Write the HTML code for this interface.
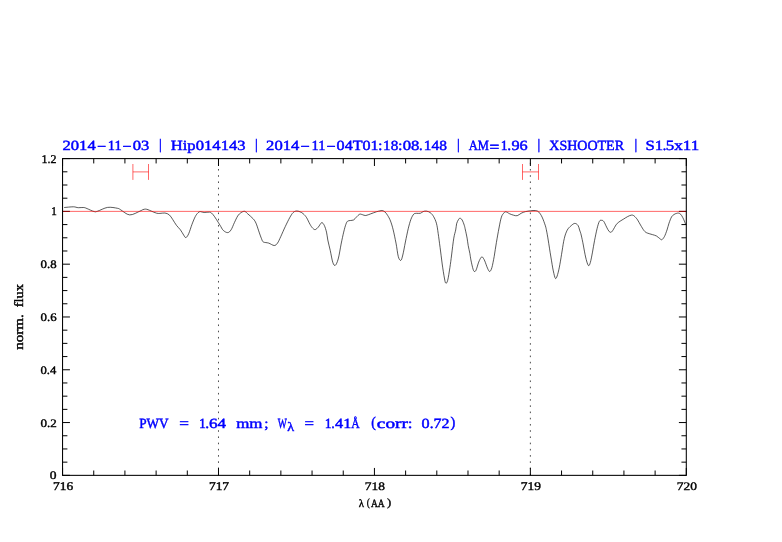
<!DOCTYPE html>
<html><head><meta charset="utf-8"><title>plot</title>
<style>
html,body{margin:0;padding:0;background:#fff;}
body{width:782px;height:542px;overflow:hidden;}
svg{display:block;font-family:"Liberation Serif",serif;text-rendering:geometricPrecision;}
text.b{fill:#0000ff;stroke:#0000ff;}
text.k{fill:#000;stroke:#000;}
</style></head><body>
<svg width="782" height="542" viewBox="0 0 782 542">
<rect width="782" height="542" fill="#fff"/>
<path d="M132.9 164V179.9M148.5 164V179.9M132.9 171.9H148.5M522.5 164V179.9M538.5 164V179.9M522.5 171.9H538.5" stroke="#ff0000" stroke-width="0.6" fill="none"/>
<path d="M218.49 475.35V158.6M530.36 475.35V158.6" stroke="#000" stroke-width="0.7" stroke-dasharray="1.6 4.62" fill="none"/>
<path d="M64.2 207.5C65.7 207.4 71.0 206.8 73.3 206.8C75.6 206.8 76.5 207.6 78.3 207.7C80.0 207.8 82.3 207.3 83.8 207.5C85.3 207.7 85.3 207.9 87.1 208.6C88.8 209.3 92.5 211.2 94.3 211.6C96.0 212.0 95.4 211.9 97.6 211.2C99.8 210.5 104.3 207.9 107.6 207.4C110.9 206.9 115.3 207.9 117.5 208.3C119.7 208.7 118.8 208.8 120.8 209.9C122.8 211.0 126.5 214.7 129.7 214.9C132.9 215.1 137.8 212.0 140.0 211.1C142.2 210.2 142.1 209.9 143.0 209.6C143.9 209.3 144.7 209.1 145.5 209.1C146.3 209.1 147.1 209.4 148.0 209.7C148.9 210.0 149.7 210.4 151.1 211.0C152.5 211.6 155.1 212.8 156.6 213.2C158.1 213.6 158.5 213.4 159.9 213.4C161.3 213.4 163.3 212.8 164.9 213.0C166.5 213.2 168.0 213.8 169.3 214.9C170.6 216.0 171.4 217.6 172.6 219.3C173.8 221.1 175.2 223.7 176.5 225.4C177.8 227.2 179.2 228.2 180.4 229.8C181.6 231.4 182.8 233.8 183.7 235.1C184.6 236.4 185.1 237.8 185.9 237.6C186.7 237.4 187.7 235.9 188.7 233.7C189.7 231.5 190.9 227.2 192.0 224.3C193.1 221.4 194.3 218.4 195.3 216.5C196.3 214.6 197.3 213.5 198.1 212.7C198.9 211.9 199.3 211.6 200.3 211.6C201.3 211.6 202.6 212.4 204.2 212.5C205.8 212.6 208.2 211.8 209.7 212.1C211.2 212.4 211.9 213.4 213.0 214.6C214.1 215.8 215.1 217.5 216.3 219.3C217.5 221.1 218.8 223.3 220.0 225.2C221.2 227.0 222.0 229.2 223.3 230.4C224.6 231.6 226.4 232.7 227.7 232.6C229.0 232.5 230.0 231.5 231.1 229.8C232.2 228.1 233.3 224.9 234.4 222.6C235.5 220.3 236.6 217.7 237.7 216.0C238.8 214.3 239.8 213.5 241.0 212.7C242.2 211.9 243.5 211.1 244.6 211.3C245.7 211.5 246.3 212.6 247.7 213.8C249.1 215.1 251.8 217.2 253.2 218.8C254.6 220.4 255.1 221.2 256.0 223.2C256.9 225.2 257.8 228.3 258.7 230.9C259.6 233.5 260.7 236.8 261.5 238.7C262.3 240.5 262.2 241.3 263.4 242.0C264.6 242.7 266.9 242.5 268.7 243.1C270.5 243.7 272.7 245.5 274.2 245.5C275.7 245.5 276.4 244.6 277.5 243.1C278.6 241.6 279.5 239.3 280.8 236.5C282.1 233.7 283.8 229.6 285.3 226.5C286.8 223.4 288.4 220.0 289.7 217.7C291.0 215.4 291.9 213.8 293.0 212.7C294.1 211.6 295.1 211.2 296.3 211.0C297.5 210.8 298.8 211.3 300.0 211.8C301.2 212.3 302.2 212.8 303.3 213.8C304.4 214.8 305.5 215.9 306.6 217.7C307.7 219.4 309.0 222.6 310.0 224.3C311.0 226.1 311.8 227.3 312.7 228.2C313.6 229.1 314.4 229.8 315.3 229.6C316.2 229.4 317.2 228.2 318.3 227.1C319.4 225.9 320.6 223.0 321.6 222.7C322.6 222.4 323.5 223.8 324.3 225.4C325.1 227.0 325.9 229.7 326.5 232.1C327.1 234.5 327.2 236.9 327.8 240.0C328.4 243.1 329.5 247.0 330.3 250.7C331.1 254.4 332.0 260.0 332.8 262.4C333.6 264.8 334.4 265.9 335.3 265.3C336.2 264.7 337.2 262.5 338.2 259.0C339.2 255.5 340.2 248.6 341.1 244.1C342.0 239.6 342.9 235.4 343.7 232.1C344.5 228.8 345.2 226.1 345.9 224.3C346.5 222.5 346.9 221.8 347.6 221.2C348.3 220.6 349.3 220.7 350.3 220.5C351.3 220.3 352.7 220.5 353.7 219.9C354.7 219.3 355.4 218.1 356.4 217.1C357.4 216.1 358.7 214.6 359.7 214.2C360.7 213.8 361.5 214.5 362.5 214.7C363.5 214.9 364.4 215.7 365.8 215.5C367.2 215.3 369.1 214.4 370.8 213.8C372.6 213.2 374.8 212.3 376.3 211.8C377.8 211.3 379.0 211.1 380.0 210.9C381.0 210.7 381.4 210.3 382.2 210.5C383.0 210.7 384.0 211.1 384.9 211.9C385.8 212.7 386.8 214.0 387.7 215.5C388.6 217.0 389.6 218.6 390.5 221.0C391.4 223.4 392.3 226.2 393.2 229.9C394.1 233.6 395.1 238.6 396.0 243.1C396.9 247.6 397.5 253.7 398.3 256.6C399.1 259.5 400.1 260.7 400.8 260.4C401.6 260.1 402.0 258.1 402.8 255.0C403.6 251.9 404.5 246.4 405.4 242.0C406.3 237.6 407.3 232.6 408.2 228.8C409.1 225.0 410.0 221.8 410.9 219.4C411.8 217.0 412.8 215.2 413.7 214.2C414.6 213.2 415.4 213.5 416.5 213.3C417.6 213.2 419.2 213.6 420.3 213.3C421.4 213.0 422.1 212.0 423.1 211.6C424.1 211.2 425.2 210.9 426.4 211.1C427.6 211.3 429.1 211.8 430.3 212.7C431.5 213.6 432.6 214.8 433.6 216.6C434.6 218.3 435.6 220.4 436.4 223.2C437.2 226.0 437.6 229.4 438.2 233.5C438.8 237.6 439.4 242.4 440.1 247.5C440.8 252.6 441.5 258.9 442.2 264.0C442.9 269.1 443.8 274.8 444.4 278.0C445.0 281.2 445.2 282.7 445.8 283.1C446.4 283.5 447.0 282.9 447.7 280.3C448.4 277.7 449.2 271.8 449.9 267.6C450.5 263.4 451.0 259.9 451.6 255.0C452.2 250.1 453.1 242.3 453.8 238.1C454.5 233.9 455.2 232.4 455.7 230.0C456.2 227.6 456.2 225.5 456.6 223.8C457.0 222.1 457.8 220.8 458.3 219.9C458.9 219.0 459.3 218.2 459.9 218.2C460.5 218.2 461.4 218.7 462.1 219.9C462.8 221.1 463.8 223.7 464.3 225.4C464.9 227.1 464.9 227.9 465.4 230.0C465.9 232.1 466.6 235.5 467.1 238.1C467.6 240.7 467.7 242.9 468.2 245.5C468.7 248.1 469.4 251.2 469.9 253.6C470.3 256.0 470.4 257.3 470.9 259.9C471.4 262.5 472.5 267.4 473.1 269.3C473.7 271.2 474.0 271.4 474.5 271.5C475.0 271.6 475.5 271.4 476.2 269.8C476.9 268.2 477.9 264.1 478.7 262.1C479.5 260.1 480.3 258.5 480.9 257.7C481.5 256.9 481.9 256.6 482.5 257.1C483.1 257.7 484.0 259.1 484.8 261.0C485.6 262.9 486.7 266.4 487.5 268.2C488.3 269.9 489.0 271.6 489.7 271.5C490.4 271.4 491.1 270.1 491.9 267.6C492.6 265.1 493.4 260.7 494.2 256.5C494.9 252.3 495.6 247.2 496.4 242.5C497.2 237.8 498.2 232.2 499.0 228.0C499.8 223.8 500.6 219.5 501.4 217.1C502.2 214.7 502.9 214.2 503.6 213.3C504.3 212.4 504.8 211.7 505.8 211.8C506.8 211.9 508.4 213.2 509.7 213.8C511.0 214.4 512.4 214.9 513.6 215.2C514.9 215.5 516.0 216.0 517.2 215.7C518.5 215.4 519.7 214.0 521.1 213.3C522.5 212.6 523.9 212.0 525.5 211.6C527.1 211.2 528.9 211.0 530.5 210.8C532.1 210.6 534.0 210.3 535.4 210.5C536.8 210.7 537.7 211.0 538.8 212.1C539.9 213.2 541.0 214.8 542.1 217.1C543.2 219.4 544.6 223.5 545.4 225.8C546.1 228.1 546.1 228.6 546.6 231.0C547.1 233.4 547.5 235.7 548.2 240.0C548.9 244.3 550.0 251.8 550.9 257.0C551.8 262.1 552.5 267.3 553.3 270.9C554.1 274.5 554.8 277.9 555.5 278.5C556.2 279.1 557.0 276.6 557.7 274.2C558.4 271.8 559.2 268.2 559.9 264.3C560.6 260.4 561.4 255.3 562.1 251.0C562.8 246.7 563.4 242.0 564.3 238.5C565.1 235.0 566.1 232.3 567.2 230.2C568.3 228.1 569.5 227.1 570.8 226.0C572.0 224.9 573.5 223.5 574.7 223.4C575.9 223.3 577.2 224.3 578.0 225.4C578.8 226.5 579.1 228.4 579.6 230.0C580.1 231.6 580.6 232.5 581.2 235.0C581.8 237.5 582.6 241.3 583.3 245.0C584.0 248.7 584.8 253.6 585.6 257.0C586.4 260.4 587.5 264.5 588.3 265.4C589.1 266.3 589.6 264.8 590.3 262.6C591.0 260.4 591.8 255.8 592.5 252.1C593.2 248.4 593.8 244.2 594.6 240.3C595.4 236.4 596.3 231.7 597.1 228.5C597.9 225.3 598.6 222.7 599.4 221.3C600.1 219.9 600.9 220.3 601.6 220.3C602.3 220.3 603.0 220.4 603.8 221.5C604.6 222.6 605.8 225.5 606.6 227.1C607.4 228.7 608.1 230.1 608.8 231.0C609.5 231.9 610.3 232.5 611.0 232.3C611.7 232.1 612.4 231.0 613.2 229.8C614.0 228.6 615.1 226.2 616.0 224.9C616.9 223.6 617.6 223.0 618.8 222.1C620.0 221.2 621.7 220.2 623.2 219.3C624.7 218.4 626.2 217.3 627.6 216.6C629.0 215.9 630.4 215.2 631.5 215.1C632.6 215.0 633.2 215.2 634.2 216.0C635.2 216.8 636.6 218.4 637.6 219.9C638.6 221.4 639.4 223.2 640.5 225.0C641.6 226.8 643.1 229.5 644.2 230.8C645.3 232.1 645.8 232.4 647.2 233.0C648.6 233.6 650.9 234.1 652.4 234.6C653.9 235.1 655.3 235.3 656.5 236.0C657.7 236.7 658.9 238.0 659.8 238.6C660.7 239.2 661.0 240.0 661.8 239.7C662.6 239.4 663.5 238.2 664.4 236.6C665.3 235.0 666.2 232.2 667.0 230.0C667.8 227.8 668.2 225.4 669.0 223.2C669.8 221.0 670.7 218.4 671.5 217.0C672.3 215.6 673.2 215.1 674.0 214.5C674.8 213.9 675.7 213.6 676.5 213.4C677.3 213.2 677.9 212.9 678.6 213.1C679.3 213.2 680.0 213.6 680.7 214.3C681.4 215.0 682.1 216.3 682.7 217.4C683.3 218.5 683.9 219.9 684.4 221.1C684.9 222.3 685.6 224.2 685.8 224.8" stroke="#000" stroke-width="0.65" fill="none" stroke-linejoin="round"/>
<path d="M62.55 475.35v-7.40M62.55 158.60v7.40M93.74 475.35v-4.85M93.74 158.60v4.85M124.92 475.35v-4.85M124.92 158.60v4.85M156.11 475.35v-4.85M156.11 158.60v4.85M187.30 475.35v-4.85M187.30 158.60v4.85M218.49 475.35v-7.40M218.49 158.60v7.40M249.68 475.35v-4.85M249.68 158.60v4.85M280.86 475.35v-4.85M280.86 158.60v4.85M312.05 475.35v-4.85M312.05 158.60v4.85M343.24 475.35v-4.85M343.24 158.60v4.85M374.43 475.35v-7.40M374.43 158.60v7.40M405.61 475.35v-4.85M405.61 158.60v4.85M436.80 475.35v-4.85M436.80 158.60v4.85M467.99 475.35v-4.85M467.99 158.60v4.85M499.17 475.35v-4.85M499.17 158.60v4.85M530.36 475.35v-7.40M530.36 158.60v7.40M561.55 475.35v-4.85M561.55 158.60v4.85M592.74 475.35v-4.85M592.74 158.60v4.85M623.93 475.35v-4.85M623.93 158.60v4.85M655.11 475.35v-4.85M655.11 158.60v4.85M686.30 475.35v-7.40M686.30 158.60v7.40M62.55 475.35h7.40M686.30 475.35h-7.40M62.55 462.15h4.85M686.30 462.15h-4.85M62.55 448.95h4.85M686.30 448.95h-4.85M62.55 435.76h4.85M686.30 435.76h-4.85M62.55 422.56h7.40M686.30 422.56h-7.40M62.55 409.36h4.85M686.30 409.36h-4.85M62.55 396.16h4.85M686.30 396.16h-4.85M62.55 382.96h4.85M686.30 382.96h-4.85M62.55 369.77h7.40M686.30 369.77h-7.40M62.55 356.57h4.85M686.30 356.57h-4.85M62.55 343.37h4.85M686.30 343.37h-4.85M62.55 330.17h4.85M686.30 330.17h-4.85M62.55 316.98h7.40M686.30 316.98h-7.40M62.55 303.78h4.85M686.30 303.78h-4.85M62.55 290.58h4.85M686.30 290.58h-4.85M62.55 277.38h4.85M686.30 277.38h-4.85M62.55 264.18h7.40M686.30 264.18h-7.40M62.55 250.99h4.85M686.30 250.99h-4.85M62.55 237.79h4.85M686.30 237.79h-4.85M62.55 224.59h4.85M686.30 224.59h-4.85M62.55 211.39h7.40M686.30 211.39h-7.40M62.55 198.19h4.85M686.30 198.19h-4.85M62.55 185.00h4.85M686.30 185.00h-4.85M62.55 171.80h4.85M686.30 171.80h-4.85M62.55 158.60h7.40M686.30 158.60h-7.40" stroke="#000" stroke-width="1.0" fill="none"/>
<path d="M62.55 211.39H686.3" stroke="#ff0000" stroke-width="0.6" fill="none"/>
<rect x="62.55" y="158.6" width="623.75" height="316.75" fill="none" stroke="#000" stroke-width="1.05"/>
<text class="b" transform="translate(62.51 150.20) scale(1.1855 1.0000)" font-size="14" stroke-width="0.45">2014</text><text class="b" transform="translate(97.01 148.50) scale(1.9765 0.8000)" font-size="14" stroke-width="0.45">-</text><text class="b" transform="translate(107.87 150.20) scale(1.0333 1.0000)" font-size="14" stroke-width="0.45">11</text><text class="b" transform="translate(122.52 148.50) scale(1.9059 0.8000)" font-size="14" stroke-width="0.45">-</text><text class="b" transform="translate(132.70 150.20) scale(1.1852 1.0000)" font-size="14" stroke-width="0.45">03</text>
<text class="b" transform="translate(158.98 149.42) scale(0.9600 1.0415)" font-size="14" stroke-width="0.45">|</text>
<text class="b" transform="translate(170.80 150.20) scale(1.1805 1.0000)" font-size="14" stroke-width="0.45">Hip</text><text class="b" transform="translate(195.80 150.20) scale(1.1831 1.0000)" font-size="14" stroke-width="0.45">014143</text>
<text class="b" transform="translate(255.08 149.42) scale(0.9600 1.0415)" font-size="14" stroke-width="0.45">|</text>
<text class="b" transform="translate(266.11 150.20) scale(1.1855 1.0000)" font-size="14" stroke-width="0.45">2014</text><text class="b" transform="translate(300.61 148.50) scale(1.9765 0.8000)" font-size="14" stroke-width="0.45">-</text><text class="b" transform="translate(311.47 150.20) scale(1.0333 1.0000)" font-size="14" stroke-width="0.45">11</text><text class="b" transform="translate(326.61 148.50) scale(1.9529 0.8000)" font-size="14" stroke-width="0.45">-</text><text class="b" transform="translate(336.61 150.20) scale(1.1497 1.0000)" font-size="14" stroke-width="0.45">04T01</text><text class="b" transform="translate(378.05 150.20) scale(1.1500 1.0000)" font-size="14" stroke-width="0.45">:</text><text class="b" transform="translate(383.12 150.20) scale(1.0824 1.0000)" font-size="14" stroke-width="0.45">18</text><text class="b" transform="translate(398.05 150.20) scale(1.1500 1.0000)" font-size="14" stroke-width="0.45">:</text><text class="b" transform="translate(402.70 150.20) scale(1.1926 1.0000)" font-size="14" stroke-width="0.45">08</text><text class="b" transform="translate(419.11 150.20) scale(1.0500 1.0000)" font-size="14" stroke-width="0.45">.</text><text class="b" transform="translate(423.80 150.20) scale(1.1038 1.0000)" font-size="14" stroke-width="0.45">148</text>
<text class="b" transform="translate(456.88 149.42) scale(0.9600 1.0415)" font-size="14" stroke-width="0.45">|</text>
<text class="b" transform="translate(468.70 150.20) scale(0.8978 1.0000)" font-size="14" stroke-width="0.45">AM</text><text class="b" transform="translate(489.58 151.58) scale(1.2429 1.1200)" font-size="14" stroke-width="0.45">=</text><text class="b" transform="translate(500.82 150.20) scale(0.9818 1.0000)" font-size="14" stroke-width="0.45">1</text><text class="b" transform="translate(507.28 150.20) scale(1.1000 1.0000)" font-size="14" stroke-width="0.45">.</text><text class="b" transform="translate(511.41 150.20) scale(1.1630 1.0000)" font-size="14" stroke-width="0.45">96</text>
<text class="b" transform="translate(537.38 149.42) scale(0.9600 1.0415)" font-size="14" stroke-width="0.45">|</text>
<text class="b" transform="translate(549.30 150.20) scale(1.0007 1.0000)" font-size="14" stroke-width="0.45">XSHOOTER</text>
<text class="b" transform="translate(634.38 149.42) scale(0.9600 1.0415)" font-size="14" stroke-width="0.45">|</text>
<text class="b" transform="translate(645.41 150.20) scale(1.1926 1.0000)" font-size="14" stroke-width="0.45">S1</text><text class="b" transform="translate(662.75 150.20) scale(1.0000 1.0000)" font-size="14" stroke-width="0.45">.</text><text class="b" transform="translate(665.79 150.20) scale(1.2151 1.0000)" font-size="14" stroke-width="0.45">5x11</text>
<text class="b" transform="translate(139.26 427.85) scale(0.9452 1.0000)" font-size="14" stroke-width="0.45">PWV</text>
<text class="b" transform="translate(179.19 427.76) scale(1.2286 1.0400)" font-size="14" stroke-width="0.45">=</text>
<text class="b" transform="translate(198.92 427.85) scale(0.9818 1.0000)" font-size="14" stroke-width="0.45">1</text><text class="b" transform="translate(205.37 427.85) scale(1.1000 1.0000)" font-size="14" stroke-width="0.45">.</text><text class="b" transform="translate(208.89 427.85) scale(1.2148 1.0000)" font-size="14" stroke-width="0.45">64</text>
<text class="b" transform="translate(236.20 427.85) scale(1.2092 1.0000)" font-size="14" stroke-width="0.45">mm</text><text class="b" transform="translate(264.26 427.85) scale(1.0800 1.0000)" font-size="14" stroke-width="0.45">;</text>
<text class="b" transform="translate(277.67 427.85) scale(0.6909 1.0000)" font-size="14" stroke-width="0.45">W</text><text class="b" transform="translate(287.33 431.25) scale(1.0880 0.9895)" font-size="13" stroke-width="0.42">λ</text>
<text class="b" transform="translate(304.60 427.76) scale(1.2000 1.0400)" font-size="14" stroke-width="0.45">=</text>
<text class="b" transform="translate(324.72 427.85) scale(0.9818 1.0000)" font-size="14" stroke-width="0.45">1</text><text class="b" transform="translate(331.25 427.85) scale(1.0000 1.0000)" font-size="14" stroke-width="0.45">.</text><text class="b" transform="translate(335.10 427.85) scale(1.1630 1.0000)" font-size="14" stroke-width="0.45">41</text><text class="b" transform="translate(351.30 427.85) scale(0.8293 1.0000)" font-size="14" stroke-width="0.45">Å</text>
<text class="b" transform="translate(371.21 426.87) scale(0.9750 1.0566)" font-size="14" stroke-width="0.45">(</text><text class="b" transform="translate(376.86 427.85) scale(1.3733 1.0000)" font-size="14" stroke-width="0.45">corr</text><text class="b" transform="translate(407.80 427.85) scale(1.2000 1.0000)" font-size="14" stroke-width="0.45">:</text>
<text class="b" transform="translate(421.61 427.85) scale(1.1538 1.0000)" font-size="14" stroke-width="0.45">0</text><text class="b" transform="translate(429.78 427.85) scale(1.1000 1.0000)" font-size="14" stroke-width="0.45">.</text><text class="b" transform="translate(433.45 427.85) scale(1.1373 1.0000)" font-size="14" stroke-width="0.45">72</text><text class="b" transform="translate(450.54 426.87) scale(1.0250 1.0566)" font-size="14" stroke-width="0.45">)</text>
<text class="k" transform="translate(49.82 479.41) scale(1.1273 0.9588)" font-size="12" stroke-width="0.4">0</text>
<text class="k" transform="translate(40.53 426.62) scale(1.0877 0.9588)" font-size="12" stroke-width="0.4">0.2</text>
<text class="k" transform="translate(40.54 373.83) scale(1.0508 0.9588)" font-size="12" stroke-width="0.4">0.4</text>
<text class="k" transform="translate(40.53 321.04) scale(1.0690 0.9588)" font-size="12" stroke-width="0.4">0.6</text>
<text class="k" transform="translate(40.53 268.24) scale(1.0690 0.9588)" font-size="12" stroke-width="0.4">0.8</text>
<text class="k" transform="translate(51.21 215.44) scale(0.9263 0.9879)" font-size="12" stroke-width="0.4">1</text>
<text class="k" transform="translate(41.45 162.65) scale(0.9964 0.9879)" font-size="12" stroke-width="0.4">1.2</text>
<text class="k" transform="translate(52.99 490.15) scale(1.1188 0.9879)" font-size="12" stroke-width="0.4">716</text>
<text class="k" transform="translate(208.93 490.15) scale(1.1188 0.9879)" font-size="12" stroke-width="0.4">717</text>
<text class="k" transform="translate(364.87 490.16) scale(1.1188 0.9588)" font-size="12" stroke-width="0.4">718</text>
<text class="k" transform="translate(520.80 490.15) scale(1.1188 0.9879)" font-size="12" stroke-width="0.4">719</text>
<text class="k" transform="translate(676.74 490.16) scale(1.1188 0.9588)" font-size="12" stroke-width="0.4">720</text>
<text class="k" transform="translate(358.80 506.67) scale(0.9000 0.9143)" font-size="12" stroke-width="0.4">λ</text><text class="k" transform="translate(366.71 506.48) scale(0.7714 0.9156)" font-size="12" stroke-width="0.4">(</text><text class="k" transform="translate(370.90 506.67) scale(0.7943 0.9333)" font-size="12" stroke-width="0.4">AA</text><text class="k" transform="translate(387.04 506.48) scale(1.0571 0.9156)" font-size="12" stroke-width="0.4">)</text>
<text class="k" transform="translate(23.30 349.70) rotate(-90) scale(1.2541 1.06) translate(-0.00 0)" font-size="12" stroke-width="0.4">norm.</text>
<text class="k" transform="translate(23.30 306.90) rotate(-90) scale(1.2000 1.06) translate(-0.25 0)" font-size="12" stroke-width="0.4">flux</text>
</svg>
</body></html>
